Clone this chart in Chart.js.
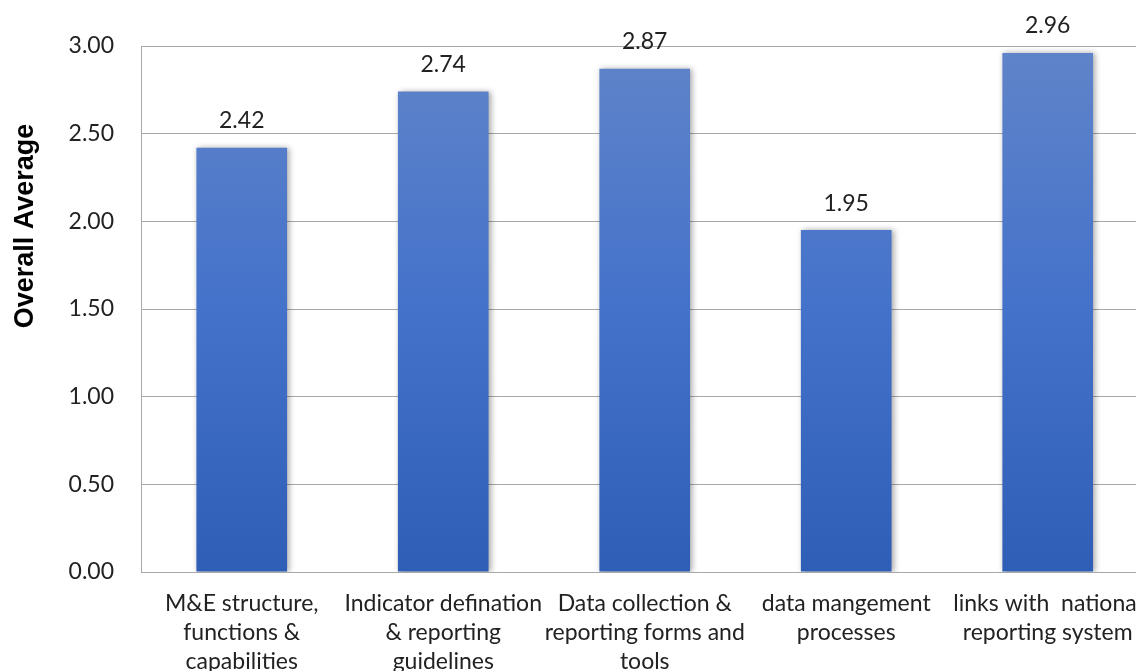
<!DOCTYPE html>
<html>
<head>
<meta charset="utf-8">
<script src="https://cdn.jsdelivr.net/npm/chart.js@4.4.0/dist/chart.umd.min.js"></script>
<style>
  html, body { margin: 0; padding: 0; background: #fff; overflow: hidden; }
  #wrap { width: 1160px; height: 700px; }
</style>
</head>
<body>
<div id="wrap"><canvas id="myChart" width="1160" height="700"></canvas></div>
<script>
// categorias (eixo x) e valores
var categories = [
  ['M&E structure,', 'functions &', 'capabilities'],
  ['Indicator defination', '& reporting', 'guidelines'],
  ['Data collection &', 'reporting forms and', 'tools'],
  ['data mangement', 'processes'],
  ['links with  national', 'reporting system']
];
var averages = [2.42, 2.74, 2.87, 1.95, 2.96];
var yTicks = [0, 0.5, 1, 1.5, 2, 2.5, 3];

var labelFont = 'Lato, "Open Sans", sans-serif';
var gridColor = 'rgb(168, 168, 168)';

function barGradient(context) {
  var chart = context.chart;
  var area = chart.chartArea;
  if (!area) return 'rgb(68, 114, 196)';
  var el = context.element;
  var top = el && el.y !== undefined ? el.y : area.top;
  var g = chart.ctx.createLinearGradient(0, top, 0, area.bottom);
  g.addColorStop(0, 'rgb(96, 132, 201)');
  g.addColorStop(0.5, 'rgb(68, 114, 202)');
  g.addColorStop(1, 'rgb(46, 94, 182)');
  return g;
}

// sombra nas barras + rótulos de valor + título do eixo y
var extras = {
  id: 'extras',
  beforeDatasetDraw: function (chart) {
    var c = chart.ctx;
    c.save();
    c.shadowColor = 'rgba(0, 0, 0, 0.35)';
    c.shadowBlur = 6;
    c.shadowOffsetX = 2;
    c.shadowOffsetY = 0;
  },
  afterDatasetDraw: function (chart) {
    chart.ctx.restore();
  },
  afterDraw: function (chart) {
    var c = chart.ctx;
    var meta = chart.getDatasetMeta(0);
    c.save();
    c.fillStyle = '#222';
    c.font = '23px ' + labelFont;
    c.textAlign = 'center';
    c.textBaseline = 'middle';
    meta.data.forEach(function (bar, i) {
      c.fillText(averages[i].toFixed(2), bar.x, bar.y - 27);
    });
    c.translate(26, chart.chartArea.top + 180);
    c.rotate(-Math.PI / 2);
    c.font = 'bold 27px "Liberation Sans", Arial, sans-serif';
    c.fillStyle = '#000';
    c.fillText('Overall Average', 0, 0);
    c.restore();
  }
};

var ctx = document.getElementById('myChart');
var myChart = new Chart(ctx, {
  type: 'bar',
  data: {
    labels: categories,
    datasets: [{
      data: averages,
      backgroundColor: barGradient,
      barPercentage: 0.45,
      categoryPercentage: 1.0,
      borderWidth: 0
    }]
  },
  options: {
    responsive: false,
    animation: false,
    devicePixelRatio: 1,
    layout: { padding: { top: 46, right: 9, left: 0, bottom: 0 } },
    plugins: {
      legend: { display: false },
      tooltip: { enabled: false }
    },
    scales: {
      x: {
        grid: { display: false, drawTicks: false },
        border: { display: true, color: gridColor, width: 1 },
        ticks: {
          color: '#222',
          font: { family: labelFont, size: 23, lineHeight: 1.27 },
          padding: 17,
          maxRotation: 0,
          autoSkip: false
        },
        afterFit: function (scale) { scale.height = 128; }
      },
      y: {
        min: 0,
        max: 3,
        afterBuildTicks: function (scale) {
          scale.ticks = yTicks.map(function (v) { return { value: v }; });
        },
        grid: { color: gridColor, drawTicks: false, lineWidth: 1 },
        border: { display: true, color: gridColor, width: 1 },
        ticks: {
          color: '#222',
          font: { family: labelFont, size: 23 },
          padding: 27,
          callback: function (v) { return Number(v).toFixed(2); }
        },
        afterFit: function (scale) { scale.width = 141; }
      }
    }
  },
  plugins: [extras]
});
</script>
</body>
</html>
